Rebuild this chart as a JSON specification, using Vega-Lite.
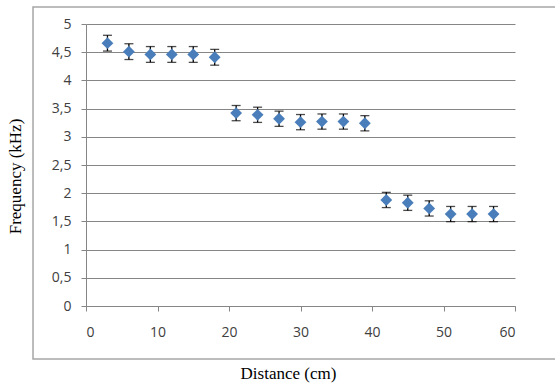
{
  "$schema": "https://vega.github.io/schema/vega-lite/v6.json",
  "width": 429,
  "height": 282,
  "autosize": {"type": "none"},
  "padding": {"left": 86, "top": 24, "right": 40, "bottom": 84},
  "background": "white",
  "config": {
    "view": {"stroke": null},
    "locale": {"number": {"decimal": ",", "thousands": ".", "grouping": [3], "currency": ["", ""]}},
    "axisX": {
      "grid": false,
      "domainColor": "#868686",
      "tickColor": "#868686",
      "tickSize": 5,
      "labelPadding": 14,
      "labelFont": "Open Sans",
      "labelFontSize": 14,
      "labelColor": "#404040",
      "titleFont": "Liberation Serif",
      "titleFontSize": 17,
      "titleFontWeight": "normal",
      "titleColor": "#000000",
      "titleX": 202,
      "titleY": 72,
      "titleBaseline": "alphabetic",
      "titleAlign": "center"
    },
    "axisY": {
      "grid": true,
      "gridColor": "#868686",
      "gridWidth": 1,
      "domainColor": "#868686",
      "tickColor": "#868686",
      "tickSize": 5,
      "tickCount": 10,
      "labelPadding": 10,
      "labelFont": "Open Sans",
      "labelFontSize": 14,
      "labelColor": "#404040",
      "labelOverlap": false,
      "titleFont": "Liberation Serif",
      "titleFontSize": 17,
      "titleFontWeight": "normal",
      "titleColor": "#000000",
      "titleX": -71,
      "titleY": 152,
      "titleBaseline": "middle",
      "titleAlign": "center"
    }
  },
  "data": {
    "values": [
      {"d": 3, "f": 4.66, "lo": 4.52, "hi": 4.80},
      {"d": 6, "f": 4.51, "lo": 4.37, "hi": 4.65},
      {"d": 9, "f": 4.46, "lo": 4.32, "hi": 4.60},
      {"d": 12, "f": 4.46, "lo": 4.32, "hi": 4.60},
      {"d": 15, "f": 4.46, "lo": 4.32, "hi": 4.60},
      {"d": 18, "f": 4.41, "lo": 4.27, "hi": 4.55},
      {"d": 21, "f": 3.42, "lo": 3.285, "hi": 3.555},
      {"d": 24, "f": 3.39, "lo": 3.255, "hi": 3.525},
      {"d": 27, "f": 3.32, "lo": 3.185, "hi": 3.455},
      {"d": 30, "f": 3.26, "lo": 3.125, "hi": 3.395},
      {"d": 33, "f": 3.27, "lo": 3.135, "hi": 3.405},
      {"d": 36, "f": 3.27, "lo": 3.135, "hi": 3.405},
      {"d": 39, "f": 3.24, "lo": 3.105, "hi": 3.375},
      {"d": 42, "f": 1.88, "lo": 1.745, "hi": 2.015},
      {"d": 45, "f": 1.83, "lo": 1.695, "hi": 1.965},
      {"d": 48, "f": 1.73, "lo": 1.595, "hi": 1.865},
      {"d": 51, "f": 1.63, "lo": 1.495, "hi": 1.765},
      {"d": 54, "f": 1.63, "lo": 1.495, "hi": 1.765},
      {"d": 57, "f": 1.63, "lo": 1.495, "hi": 1.765}
    ]
  },
  "layer": [
    {
      "data": {"values": [{}]},
      "mark": {"type": "rect", "fill": null, "stroke": "#a6a6a6", "strokeWidth": 1.5},
      "encoding": {
        "x": {
          "datum": -7.41,
          "type": "quantitative",
          "title": "Distance (cm)",
          "scale": {"domain": [0, 60], "nice": false, "zero": false},
          "axis": {"tickCount": 6}
        },
        "x2": {"datum": 66.3},
        "y": {
          "datum": 5.3,
          "type": "quantitative",
          "title": "Frequency (kHz)",
          "scale": {"domain": [0, 5], "nice": false, "zero": false},
          "axis": {"tickCount": 10, "format": "~g"}
        },
        "y2": {"datum": -0.94}
      }
    },
    {
      "mark": {"type": "rule", "color": "black", "strokeWidth": 1.3},
      "encoding": {
        "x": {"field": "d", "type": "quantitative", "title": "Distance (cm)", "axis": {"tickCount": 6}},
        "y": {"field": "lo", "type": "quantitative", "title": "Frequency (kHz)", "axis": {"tickCount": 10, "format": "~g"}},
        "y2": {"field": "hi"}
      }
    },
    {
      "mark": {"type": "tick", "color": "black", "size": 9, "thickness": 1.3, "orient": "horizontal"},
      "encoding": {
        "x": {"field": "d", "type": "quantitative", "title": "Distance (cm)", "axis": {"tickCount": 6}},
        "y": {"field": "lo", "type": "quantitative", "title": "Frequency (kHz)", "axis": {"tickCount": 10, "format": "~g"}}
      }
    },
    {
      "mark": {"type": "tick", "color": "black", "size": 9, "thickness": 1.3, "orient": "horizontal"},
      "encoding": {
        "x": {"field": "d", "type": "quantitative", "title": "Distance (cm)", "axis": {"tickCount": 6}},
        "y": {"field": "hi", "type": "quantitative", "title": "Frequency (kHz)", "axis": {"tickCount": 10, "format": "~g"}}
      }
    },
    {
      "mark": {"type": "point", "shape": "diamond", "filled": true, "size": 140, "color": "#4a7ebb", "opacity": 1},
      "encoding": {
        "x": {"field": "d", "type": "quantitative", "title": "Distance (cm)", "axis": {"tickCount": 6}},
        "y": {"field": "f", "type": "quantitative", "title": "Frequency (kHz)", "axis": {"tickCount": 10, "format": "~g"}}
      }
    }
  ]
}
